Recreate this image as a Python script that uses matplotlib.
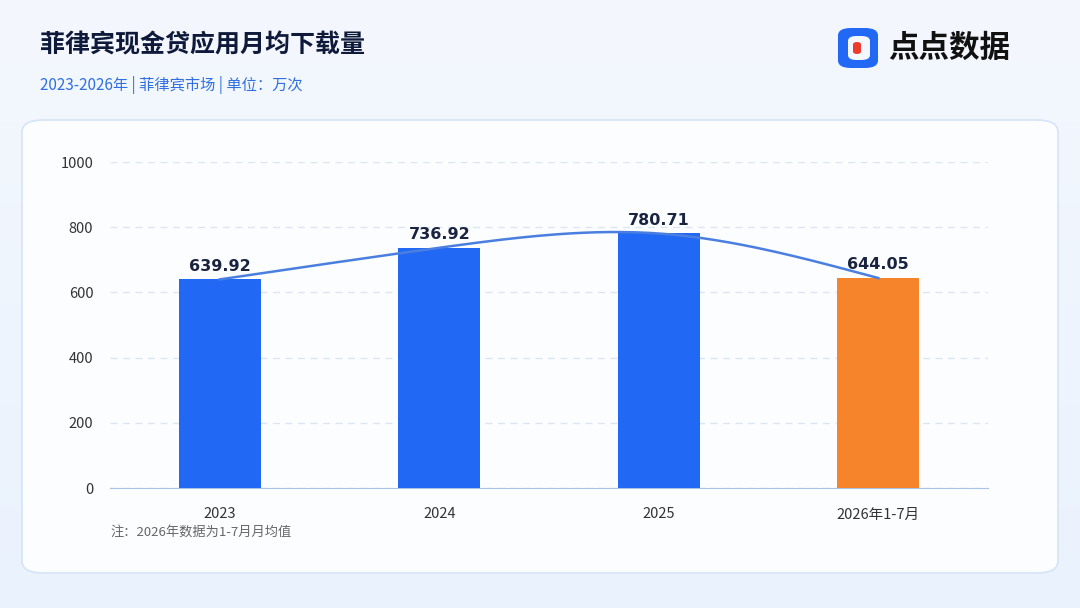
import matplotlib
matplotlib.use("Agg")
import matplotlib.pyplot as plt
import numpy as np
from matplotlib.patches import FancyBboxPatch, Circle, Wedge

plt.rcParams['font.family'] = ['Noto Sans CJK SC', 'DejaVu Sans']

categories = ["2023", "2024", "2025", "2026年1-7月"]
values = [639.92, 736.92, 780.71, 644.05]
bar_colors = ["#2169F5", "#2169F5", "#2169F5", "#F5842B"]

fig = plt.figure(figsize=(10.8, 6.08), dpi=100)

# background gradient
bg = fig.add_axes([0, 0, 1, 1], zorder=-10)
grad = np.linspace(0, 1, 256).reshape(-1, 1)
bg.imshow(grad, aspect="auto", extent=[0, 1, 0, 1],
          cmap=matplotlib.colors.LinearSegmentedColormap.from_list("g", ["#F4F8FE", "#EAF2FD"]))
bg.set_xlim(0, 1); bg.set_ylim(0, 1); bg.axis("off")

# white card
card = FancyBboxPatch((22 / 1080, 1 - 573 / 608), 1036 / 1080, 453 / 608,
                      boxstyle="round,pad=0,rounding_size=0.02", transform=fig.transFigure,
                      facecolor="#FCFDFF", edgecolor="#D6E4F8", linewidth=1.2, zorder=-5)
fig.patches.append(card)

fig.text(40 / 1080, 1 - 45 / 608, "菲律宾现金贷应用月均下载量", fontsize=18, fontweight="bold",
         color="#0F1A3A", va="center")
fig.text(40 / 1080, 1 - 85 / 608, "2023-2026年 | 菲律宾市场 | 单位：万次", fontsize=11,
         color="#2F6FE0", va="center")

# logo
lx, ly = 858 / 1080, 1 - 48 / 608
fig.patches.append(FancyBboxPatch((838 / 1080, 1 - 68 / 608), 40 / 1080, 40 / 608,
                                  boxstyle="round,pad=0,rounding_size=0.012", transform=fig.transFigure,
                                  facecolor="#2169F5", edgecolor="none"))
fig.patches.append(FancyBboxPatch((848 / 1080, 1 - 60 / 608), 22 / 1080, 24 / 608,
                                  boxstyle="round,pad=0,rounding_size=0.008", transform=fig.transFigure,
                                  facecolor="#F4F8FE", edgecolor="none"))
fig.patches.append(FancyBboxPatch((853 / 1080, 1 - 54 / 608), 8 / 1080, 12 / 608,
                                  boxstyle="round,pad=0,rounding_size=0.004", transform=fig.transFigure,
                                  facecolor="#EF3B2C", edgecolor="none"))
fig.text(888 / 1080, 1 - 48 / 608, "点点数据", fontsize=22, fontweight="bold", color="#111111", va="center")

ax = fig.add_axes([110 / 1080, 1 - 488 / 608, 878 / 1080, 326 / 608])
ax.set_facecolor("none")
x = np.arange(len(categories))
ax.bar(x, values, width=0.375, color=bar_colors, zorder=3)
for xi, v in zip(x, values):
    ax.text(xi, v + 18, f"{v:.2f}", ha="center", va="bottom", fontsize=11.5,
            fontweight="bold", color="#1A2440", family="DejaVu Sans", zorder=5)

# smooth curve through bar tops (natural cubic spline)
n = len(values)
h = 1.0
A = np.zeros((n, n)); r = np.zeros(n)
A[0, 0] = A[-1, -1] = 1
for i in range(1, n - 1):
    A[i, i - 1], A[i, i], A[i, i + 1] = 1, 4, 1
    r[i] = 6 * (values[i + 1] - 2 * values[i] + values[i - 1])
M = np.linalg.solve(A, r)
xs, ys = [], []
for i in range(n - 1):
    t = np.linspace(0, 1, 50)
    y = ((1 - t) * values[i] + t * values[i + 1]
         + ((1 - t) ** 3 - (1 - t)) * M[i] / 6 + (t ** 3 - t) * M[i + 1] / 6)
    xs.extend(i + t); ys.extend(y)
ax.plot(xs, ys, color="#4A7FE0", linewidth=1.8, zorder=4)

ax.set_xlim(-0.5, 3.5)
ax.set_ylim(0, 1000)
ax.set_yticks(range(0, 1001, 200))
ax.set_xticks(x)
ax.set_xticklabels(categories)
ax.tick_params(axis="both", length=0, labelsize=10.5, colors="#333333")
ax.tick_params(axis="x", pad=14)
ax.tick_params(axis="y", pad=12)
ax.grid(axis="y", linestyle=(0, (5, 4)), color="#DCE6F2", linewidth=1, zorder=0)
for s in ["top", "right", "left"]:
    ax.spines[s].set_visible(False)
ax.spines["bottom"].set_color("#A9C4E6")

fig.text(110 / 1080, 1 - 532 / 608, "注：2026年数据为1-7月月均值", fontsize=9.5, color="#666666", va="center")

fig.savefig("out.png", dpi=100)
